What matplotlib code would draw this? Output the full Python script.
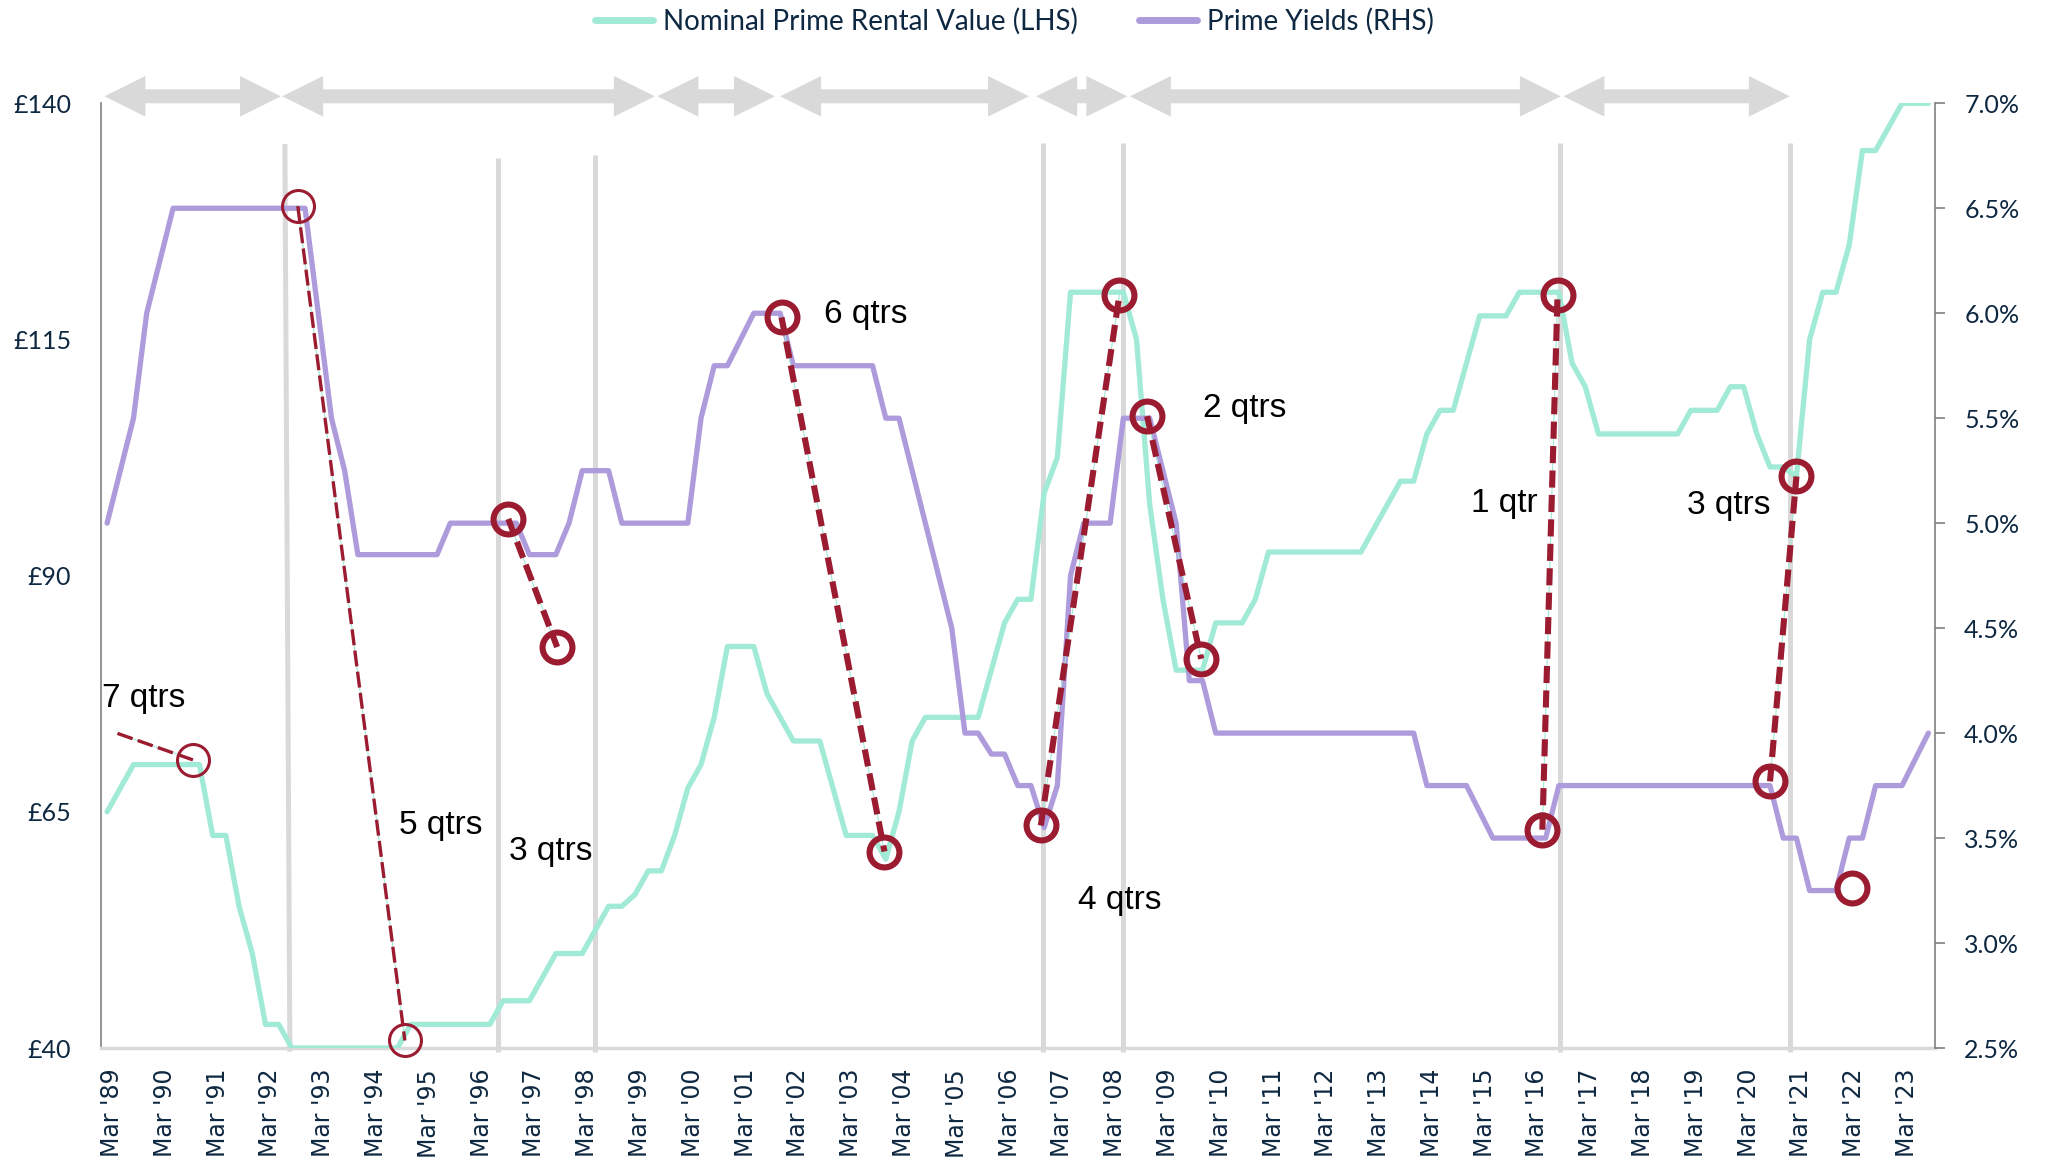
import matplotlib
matplotlib.use("Agg")
import matplotlib.pyplot as plt
from matplotlib.patches import Polygon
from matplotlib.lines import Line2D
from matplotlib.transforms import blended_transform_factory, ScaledTranslation
import numpy as np

# ---------------------------------------------------------------------------
# Quarterly data, Mar 1989 (index 0) to Sep 2023 (index 138)
# ---------------------------------------------------------------------------
label_years = list(range(1989, 2024))
tick_labels = [f"Mar '{y % 100:02d}" for y in label_years]

rent = [
    65, 67.5, 70, 70, 70, 70, 70, 70, 62.5, 62.5,            # 89-91
    55, 50, 42.5, 42.5, 40, 40, 40, 40, 40, 40,              # 91-93
    40, 40, 40, 42.5, 42.5, 42.5, 42.5, 42.5, 42.5, 42.5,    # 94-96
    45, 45, 45, 47.5, 50, 50, 50, 52.5, 55, 55,              # 96-98
    56.25, 58.75, 58.75, 62.5, 67.5, 70, 75, 82.5, 82.5, 82.5,  # 99-01
    77.5, 75, 72.5, 72.5, 72.5, 67.5, 62.5, 62.5, 62.5, 60,  # 01-03
    65, 72.5, 75, 75, 75, 75, 75, 80, 85, 87.5,              # 04-06
    87.5, 98.75, 102.5, 120, 120, 120, 120, 120, 115, 97.5,  # 06-08
    87.5, 80, 80, 80, 85, 85, 85, 87.5, 92.5, 92.5,          # 09-11
    92.5, 92.5, 92.5, 92.5, 92.5, 92.5, 95, 97.5, 100, 100,  # 11-13
    105, 107.5, 107.5, 112.5, 117.5, 117.5, 117.5, 120, 120, 120,  # 14-16
    120, 112.5, 110, 105, 105, 105, 105, 105, 105, 105,      # 16-18
    107.5, 107.5, 107.5, 110, 110, 105, 101.5, 101.5, 100.5, 115,  # 19-21
    120, 120, 125, 135, 135, 137.5, 140, 140, 140,           # 21-23
]

yields = [
    5.0, 5.25, 5.5, 6.0, 6.25, 6.5, 6.5, 6.5, 6.5, 6.5,
    6.5, 6.5, 6.5, 6.5, 6.5, 6.5, 6.0, 5.5, 5.25, 4.85,
    4.85, 4.85, 4.85, 4.85, 4.85, 4.85, 5.0, 5.0, 5.0, 5.0,
    5.0, 5.0, 4.85, 4.85, 4.85, 5.0, 5.25, 5.25, 5.25, 5.0,
    5.0, 5.0, 5.0, 5.0, 5.0, 5.5, 5.75, 5.75, 5.875, 6.0,
    6.0, 6.0, 5.75, 5.75, 5.75, 5.75, 5.75, 5.75, 5.75, 5.5,
    5.5, 5.25, 5.0, 4.75, 4.5, 4.0, 4.0, 3.9, 3.9, 3.75,
    3.75, 3.55, 3.75, 4.75, 5.0, 5.0, 5.0, 5.5, 5.5, 5.5,
    5.25, 5.0, 4.25, 4.25, 4.0, 4.0, 4.0, 4.0, 4.0, 4.0,
    4.0, 4.0, 4.0, 4.0, 4.0, 4.0, 4.0, 4.0, 4.0, 4.0,
    3.75, 3.75, 3.75, 3.75, 3.625, 3.5, 3.5, 3.5, 3.5, 3.5,
    3.75, 3.75, 3.75, 3.75, 3.75, 3.75, 3.75, 3.75, 3.75, 3.75,
    3.75, 3.75, 3.75, 3.75, 3.75, 3.75, 3.75, 3.5, 3.5, 3.25,
    3.25, 3.25, 3.5, 3.5, 3.75, 3.75, 3.75, 3.875, 4.0,
]

# Cycle spans shown as double-headed arrows above the plot (quarter index)
cycle_start = [-0.2, 13.27, 41.7, 51.0, 70.4, 77.5, 110.35]
cycle_end = [13.17, 41.5, 50.6, 69.85, 77.3, 110.15, 127.5]

# Turning-point guide lines (quarter index at top / bottom, top level in GBP)
guide_x_top = [13.47, 29.6, 37.0, 70.9, 77.0, 110.05, 127.5]
guide_x_bot = [13.85, 29.6, 37.0, 70.9, 77.0, 110.05, 127.5]
guide_top = [135.7, 134.2, 134.5, 135.8, 135.8, 135.8, 135.8]

# Ringed points: (quarter index, value, scale) -- 'L' = GBP, 'R' = yield %
rings = [
    (6.5, 70.5, "L"), (14.45, 6.51, "R"), (22.56, 40.8, "L"),
    (30.4, 5.02, "R"), (34.1, 4.41, "R"), (51.1, 5.98, "R"),
    (58.9, 60.8, "L"), (70.75, 3.56, "R"), (76.7, 119.7, "L"),
    (78.8, 5.51, "R"), (82.9, 81.2, "L"), (108.75, 3.54, "R"),
    (109.9, 119.7, "L"), (126.0, 3.77, "R"), (128.0, 100.5, "L"),
    (132.2, 3.26, "R"),
]
thin_rings = [0, 1, 2]

# Lag links between ringed points: (from, to, thin?)
lag_start_7q = (0.79, 73.3, "L")
links = [(1, 2, True), (3, 4, False), (5, 6, False), (7, 8, False),
         (9, 10, False), (11, 12, False), (13, 14, False)]

lag_labels = ["7 qtrs", "5 qtrs", "3 qtrs", "6 qtrs", "4 qtrs", "2 qtrs", "1 qtr", "3 qtrs"]
lag_label_x = [2.77, 25.3, 33.6, 57.5, 76.7, 86.2, 105.9, 122.9]
lag_label_y = [77.0, 63.6, 60.8, 117.6, 55.6, 107.7, 97.6, 97.4]

# ---------------------------------------------------------------------------
GREEN = "#A0EAD6"
PURPLE = "#AE9BDC"
RED = "#9B1B30"
GREY = "#D9D9D9"
AXIS = "#808080"
NAVY = "#0E2841"

L_LIM = (40, 140)
R_LIM = (2.5, 7.0)


def to_right(v, scale):
    """Express a value on the yield scale so every marker shares one axis."""
    if scale == "R":
        return v
    return R_LIM[0] + (v - L_LIM[0]) * (R_LIM[1] - R_LIM[0]) / (L_LIM[1] - L_LIM[0])


W, H = 2048, 1164
fig = plt.figure(figsize=(W / 100, H / 100), dpi=100)
ax = fig.add_axes([100.5 / W, 116 / H, 1834.5 / W, 944.7 / H])
ax2 = ax.twinx()

n = len(rent)
x = np.arange(n)

ax.set_xlim(-0.5, n - 0.5)
ax.set_ylim(*L_LIM)
ax2.set_ylim(*R_LIM)

# guide lines
for xt, xb, top in zip(guide_x_top, guide_x_bot, guide_top):
    ax.plot([xt, xb], [top, 39.6], color=GREY, lw=3.6, solid_capstyle="butt",
            zorder=1, clip_on=False)

ax.plot(x, rent, color=GREEN, lw=3.8, zorder=3, solid_joinstyle="round",
        solid_capstyle="round")
ax2.plot(x, yields, color=PURPLE, lw=3.8, zorder=3, solid_joinstyle="round",
         solid_capstyle="round")


def draw_link(p, q, thin):
    xs = [p[0], q[0]]
    ys = [to_right(p[1], p[2]), to_right(q[1], q[2])]
    ax2.plot(xs, ys, color=GREEN, lw=0.8, zorder=4)
    if thin:
        ax2.plot(xs, ys, color=RED, lw=2.4, dashes=(4.8, 1.6),
                 dash_capstyle="butt", zorder=5)
    else:
        ax2.plot(xs, ys, color=RED, lw=4.4, dashes=(2.8, 1.2),
                 dash_capstyle="butt", zorder=5)


draw_link(lag_start_7q, rings[0], True)
for a, b, thin in links:
    draw_link(rings[a], rings[b], thin)

for k, (rx, rv, sc) in enumerate(rings):
    thin = k in thin_rings
    ax2.plot([rx], [to_right(rv, sc)], marker="o", ms=23 if thin else 21.5,
             mfc="none", mec=RED, mew=2.2 if thin else 4.4, zorder=6,
             clip_on=False)

for txt, lx, ly in zip(lag_labels, lag_label_x, lag_label_y):
    ax2.text(lx, to_right(ly, "L"), txt, ha="center", va="center",
             fontsize=24, family="Liberation Sans", color="black", zorder=7)

# cycle arrows above the plot area
arrow_tf = blended_transform_factory(ax.transData, ax.transAxes)
head, yc, hh, sh = 3.1, 1.0074, 0.0215, 0.0074
for x0, x1 in zip(cycle_start, cycle_end):
    pts = [(x0, yc), (x0 + head, yc + hh), (x0 + head, yc + sh),
           (x1 - head, yc + sh), (x1 - head, yc + hh), (x1, yc),
           (x1 - head, yc - hh), (x1 - head, yc - sh), (x0 + head, yc - sh),
           (x0 + head, yc - hh)]
    ax.add_patch(Polygon(pts, closed=True, transform=arrow_tf, facecolor=GREY,
                         edgecolor="none", clip_on=False, zorder=2))

# axes styling
for side in ("top", "right"):
    ax.spines[side].set_visible(False)
for side in ("top", "left", "bottom"):
    ax2.spines[side].set_visible(False)
ax.spines["left"].set_color(AXIS)
ax.spines["left"].set_linewidth(1.2)
ax.spines["bottom"].set_color(GREY)
ax.spines["bottom"].set_linewidth(2.5)
ax2.spines["right"].set_color(AXIS)
ax2.spines["right"].set_linewidth(1.2)

left_ticks = [40, 65, 90, 115, 140]
ax.set_yticks(left_ticks)
ax.set_yticklabels([f"£{v}" for v in left_ticks], family="Lato", fontsize=18,
                   color=NAVY)
ax.tick_params(axis="y", length=0, pad=21)

right_ticks = np.arange(2.5, 7.01, 0.5)
ax2.set_yticks(right_ticks)
ax2.set_yticklabels([f"{v:.1f}%" for v in right_ticks], family="Lato",
                    fontsize=18, color=NAVY)
ax2.tick_params(axis="y", length=7, width=1.2, color=AXIS, pad=14)

ax.set_xticks(np.arange(0, n, 4))
ax.set_xticklabels(tick_labels, rotation=90, family="DejaVu Sans", fontsize=17,
                   color=NAVY)
ax.tick_params(axis="x", length=0, pad=15)
shift = ScaledTranslation(5 / 100, 0, fig.dpi_scale_trans)
for lab in ax.get_xticklabels():
    lab.set_transform(lab.get_transform() + shift)

handles = [Line2D([], [], color=GREEN, lw=5, solid_capstyle="round"),
           Line2D([], [], color=PURPLE, lw=5, solid_capstyle="round")]
fig.legend(handles, ["Nominal Prime Rental Value (LHS)", "Prime Yields (RHS)"],
           loc="center", bbox_to_anchor=(1014 / W, 1 - 21 / H), ncol=2,
           frameon=False, prop={"family": "Lato", "size": 20},
           handlelength=2.1, handletextpad=0.35, columnspacing=2.2,
           labelcolor=NAVY)

fig.savefig("out.png", dpi=100)
